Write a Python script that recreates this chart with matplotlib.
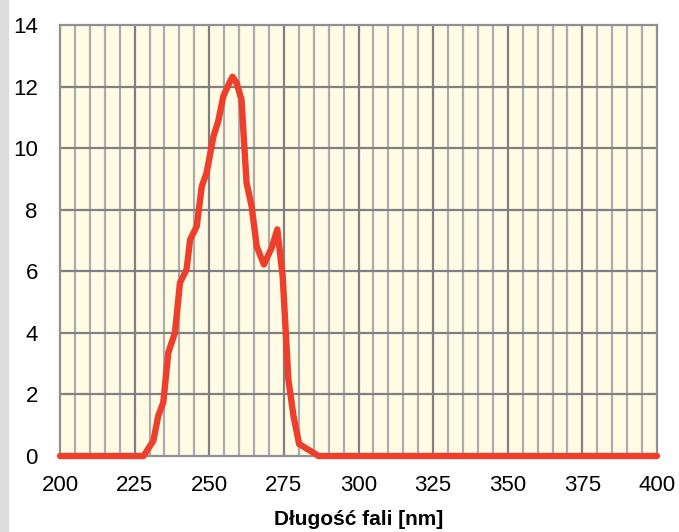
import matplotlib.pyplot as plt
from matplotlib.patches import Rectangle

# spectrum
wavelength = [200, 228, 231.3, 232.9, 234.6, 236.3, 238.5, 240.2, 242.4, 243.6,
              245.8, 247.5, 249.1, 251.4, 253.0, 254.7, 256.4, 257.8, 259.2,
              260.8, 262.5, 264.2, 265.9, 268.3, 270.9, 272.8, 274.6, 276.5,
              278.2, 280.1, 283.8, 286.6, 400]
absorbance = [0, 0, 0.5, 1.3, 1.74, 3.36, 4.0, 5.63, 6.06, 7.03,
              7.46, 8.76, 9.19, 10.38, 10.87, 11.68, 12.05, 12.32, 12.11,
              11.57, 8.87, 8.11, 6.81, 6.22, 6.76, 7.36, 5.84, 2.49,
              1.31, 0.39, 0.17, 0.0, 0]

x_ticks = [200, 225, 250, 275, 300, 325, 350, 375, 400]
y_ticks = [0, 2, 4, 6, 8, 10, 12, 14]

plt.rcParams['font.family'] = ['Liberation Sans', 'DejaVu Sans']

fig = plt.figure(figsize=(6.79, 5.32), dpi=100)
fig.patch.set_facecolor('white')
# grey strip on the left edge
fig.patches.append(Rectangle((0, 0), 8 / 679, 1, transform=fig.transFigure,
                             color='#dcdcdc', zorder=0))

ax = fig.add_axes([60 / 679, 1 - 456 / 532, 597 / 679, 431 / 532])
ax.set_facecolor('#fffbe4')

# minor vertical grid every 5 nm, major every 25 nm
for x in range(205, 400, 5):
    if x % 25:
        ax.axvline(x, color='#acacac', lw=1.6, zorder=1)
for x in x_ticks[1:-1]:
    ax.axvline(x, color='#808080', lw=1.6, zorder=1)
for y in y_ticks[1:-1]:
    ax.axhline(y, color='#808080', lw=1.6, zorder=1)

ax.plot(wavelength, absorbance, color='#ee3f2c', lw=4.6, zorder=3,
        solid_joinstyle='round', solid_capstyle='round', clip_on=False)

ax.set_xlim(200, 400)
ax.set_ylim(0, 14)
ax.set_xticks(x_ticks)
ax.set_yticks(y_ticks)
ax.tick_params(length=0, labelsize=16, pad=14)
ax.tick_params(axis='y', pad=16)
for s in ax.spines.values():
    s.set_color('#909090')
    s.set_linewidth(1.6)

ax.set_xlabel('Długość fali [nm]', fontsize=15, fontweight='bold', labelpad=10)

plt.savefig('out.png', dpi=100)
